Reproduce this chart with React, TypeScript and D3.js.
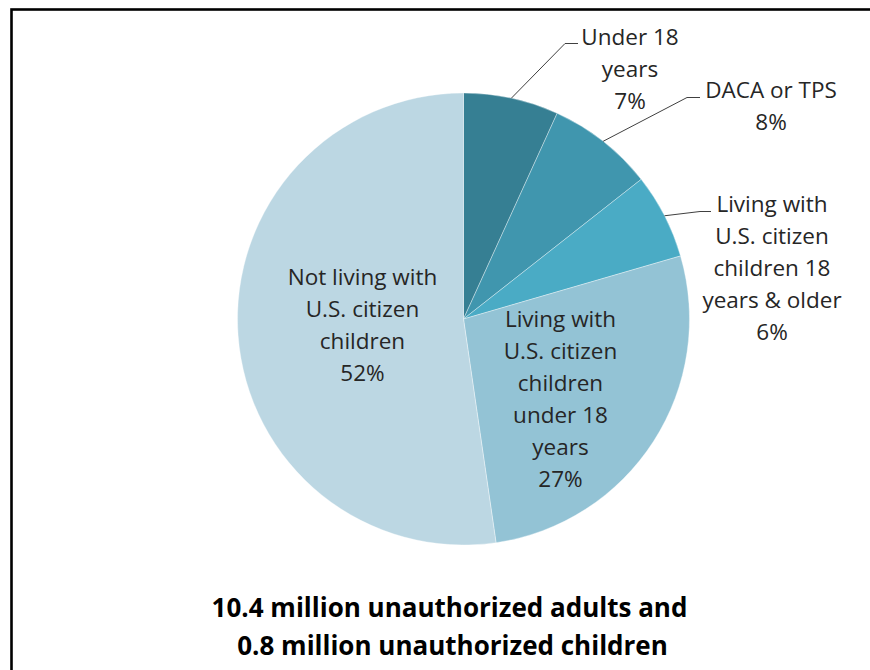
import React from "react";
import * as d3 from "d3";

const categories = [
  "Under 18 years",
  "DACA or TPS",
  "Living with U.S. citizen children 18 years & older",
  "Living with U.S. citizen children under 18 years",
  "Not living with U.S. citizen children",
];
const shares = [6.8, 7.6, 6.1, 27.2, 52.3];
const percentLabels = ["7%", "8%", "6%", "27%", "52%"];
const labelLines = [
  ["Under 18", "years", "7%"],
  ["DACA or TPS", "8%"],
  ["Living with", "U.S. citizen", "children 18", "years & older", "6%"],
  ["Living with", "U.S. citizen", "children", "under 18", "years", "27%"],
  ["Not living with", "U.S. citizen", "children", "52%"],
];
const titleLines = [
  "10.4 million unauthorized adults and",
  "0.8 million unauthorized children",
];

const colors = ["#367f93", "#4096ae", "#4aabc5", "#93c3d5", "#bcd7e3"];

const W = 870;
const H = 670;
const cx = 463.5;
const cy = 319;
const R = 226;
const lineH = 32;
const FONT = "'Open Sans', 'Noto Sans', sans-serif";

// label layout: anchor x, first baseline y; leader elbow points (null = inside)
const labelPos = [
  { x: 630, y: 45, elbow: [[565, 43.5], [578, 43.5]] },
  { x: 771, y: 98, elbow: [[687, 97.5], [700, 97.5]] },
  { x: 772, y: 212, elbow: [[700, 211.5], [711, 211.5]] },
  { x: 560.5, y: 327, elbow: null },
  { x: 362.5, y: 285, elbow: null },
];

export default function App() {
  const pie = d3
    .pie<number>()
    .sort(null)
    .value((d) => d)
    .startAngle(0)
    .endAngle(2 * Math.PI);
  const arcs = pie(shares);
  const arcGen = d3.arc<d3.PieArcDatum<number>>().innerRadius(0).outerRadius(R);
  const lineGen = d3.line();

  return (
    <svg
      width={W}
      height={H}
      style={{ position: "absolute", left: 0, top: 0, background: "#fff" }}
    >
      <rect x={0} y={0} width={W} height={H} fill="#fff" />
      <rect
        x={11.5}
        y={9.5}
        width={W + 20}
        height={H + 20}
        fill="none"
        stroke="#000"
        strokeWidth={2.6}
      />
      <g transform={`translate(${cx},${cy})`}>
        {arcs.map((a, i) => (
          <path
            key={categories[i]}
            d={arcGen(a) || ""}
            fill={colors[i]}
            stroke="#ffffff"
            strokeOpacity={0.45}
            strokeWidth={0.8}
          />
        ))}
      </g>
      {arcs.map((a, i) => {
        const lp = labelPos[i];
        if (!lp.elbow) return null;
        const mid = (a.startAngle + a.endAngle) / 2;
        const start: [number, number] = [cx + R * Math.sin(mid), cy - R * Math.cos(mid)];
        const pts = [start, ...(lp.elbow as [number, number][])];
        return (
          <path
            key={"lead" + i}
            d={lineGen(pts) || ""}
            fill="none"
            stroke="#404040"
            strokeWidth={1}
          />
        );
      })}
      {labelLines.map((lines, i) => (
        <text
          key={"lab" + i}
          x={labelPos[i].x}
          y={labelPos[i].y}
          textAnchor="middle"
          fontFamily={FONT}
          fontSize={22.5}
          fill="#262626"
        >
          {lines.map((t, j) => (
            <tspan key={j} x={labelPos[i].x} y={labelPos[i].y + j * lineH}>
              {t}
            </tspan>
          ))}
        </text>
      ))}
      {titleLines.map((t, i) => (
        <text
          key={"title" + i}
          x={i === 0 ? 449.5 : 452.5}
          y={i === 0 ? 617 : 655}
          textAnchor="middle"
          fontFamily={FONT}
          fontWeight="bold"
          fontSize={26}
          fill="#000"
        >
          {t}
        </text>
      ))}
    </svg>
  );
}
